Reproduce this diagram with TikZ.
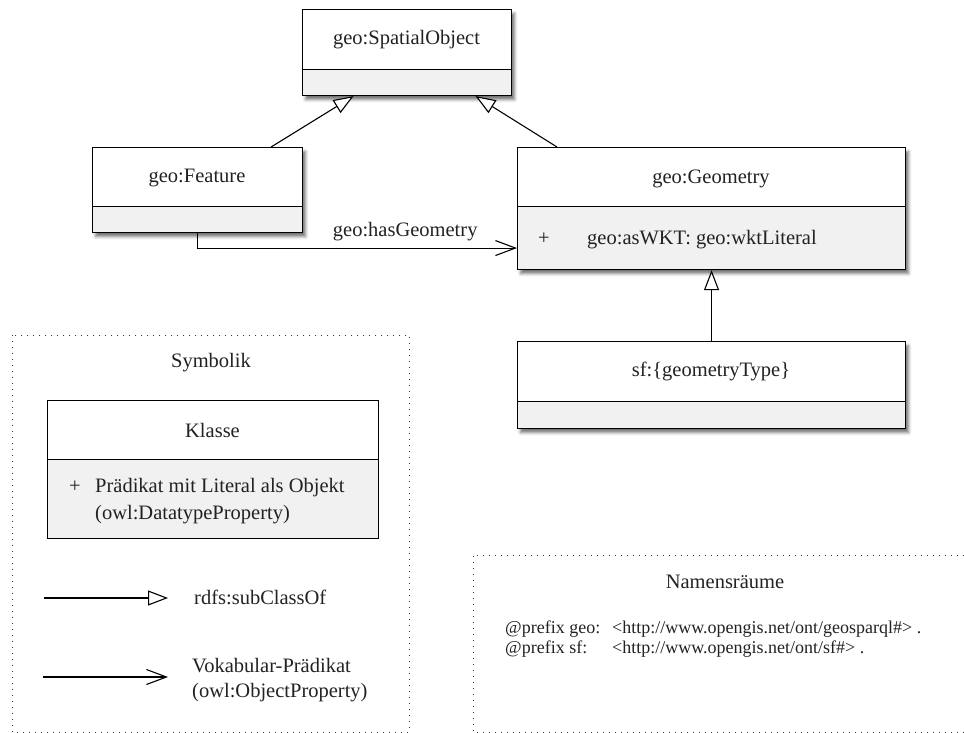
\documentclass[tikz,border=0pt]{standalone}
\usepackage{fontspec}
\setmainfont{Liberation Serif}
\usetikzlibrary{arrows.meta,shadows.blur}

\definecolor{ink}{HTML}{222222}
\definecolor{compgray}{HTML}{F1F1F1}
\definecolor{dotgray}{HTML}{333333}

\newcommand\mainsize{\fontsize{20.5}{25}\selectfont}
\newcommand\smallsize{\fontsize{18}{20}\selectfont}

\tikzset{
  every node/.style={font=\mainsize, text=ink, inner sep=0pt},
  txt/.style={anchor=base},
  txtl/.style={anchor=base west},
  classbox/.style={draw=black, line width=1.1pt, fill=white, anchor=north west,
    blur shadow={shadow xshift=3pt, shadow yshift=-4pt, shadow blur radius=3pt, shadow opacity=55}},
  plainbox/.style={draw=black, line width=1.1pt, fill=white, anchor=north west},
  compbox/.style={draw=black, line width=1.1pt, fill=compgray, anchor=north west},
  gen/.style={line width=1.1pt, -{Triangle[open, length=20pt, width=15pt, fill=white]}},
  assoc/.style={line width=1.1pt, -{Straight Barb[length=20pt, width=15pt, line width=1.1pt]}},
  frame/.style={draw=dotgray, line width=1pt, dash pattern=on 1pt off 5pt},
}

\begin{document}
\begin{tikzpicture}[x=1pt, y=-1pt]
\useasboundingbox (0,0) rectangle (964,733);

% geo:SpatialObject
\node[classbox, minimum width=209pt, minimum height=86pt] (so) at (302,9) {};
\node[compbox, minimum width=209pt, minimum height=26pt] (so-c) at (302,69) {};
\node[txt] (so-t) at (406.5,45) {geo:SpatialObject};

% geo:Feature
\node[classbox, minimum width=210pt, minimum height=85pt] (feat) at (92,147) {};
\node[compbox, minimum width=210pt, minimum height=26pt] (feat-c) at (92,206) {};
\node[txt] (feat-t) at (197,182.5) {geo:Feature};

% geo:Geometry
\node[classbox, minimum width=388pt, minimum height=122pt] (geom) at (517,147) {};
\node[compbox, minimum width=388pt, minimum height=63pt] (geom-c) at (517,206) {};
\node[txt] (geom-t) at (711,183) {geo:Geometry};
\node[txt] (geom-plus) at (544,244) {+};
\node[txtl] (geom-attr) at (587,244) {geo:asWKT: geo:wktLiteral};

% sf:{geometryType}
\node[classbox, minimum width=388pt, minimum height=87pt] (sf) at (517,341) {};
\node[compbox, minimum width=388pt, minimum height=27pt] (sf-c) at (517,401) {};
\node[txt] (sf-t) at (711,376) {sf:\{geometryType\}};

% relations
\draw[gen] ([xshift=-32pt]feat.north east) -- ([xshift=-53.5pt]so.south);
\draw[gen] ([xshift=40pt]geom.north west) -- ([xshift=68.5pt]so.south);
\draw[gen] (sf.north) -- (geom.south);
\draw[assoc] (feat.south) |- ([yshift=-39.5pt]geom.west)
  node[pos=0.825, above=7pt] (hasgeom) {geo:hasGeometry};

% legend
\draw[frame] (12,335) rectangle (409,732);
\node[txt] (sym-t) at (211,367) {Symbolik};
\node[plainbox, minimum width=331pt, minimum height=138pt] (kl) at (47,400) {};
\node[compbox, minimum width=331pt, minimum height=79pt] (kl-c) at (47,459) {};
\node[txt] (kl-t) at (212.5,437) {Klasse};
\node[txt] (kl-plus) at (75,492) {+};
\node[txtl] (kl-attr1) at (95,492) {Prädikat mit Literal als Objekt};
\node[txtl] (kl-attr2) at (95,519) {(owl:DatatypeProperty)};

\coordinate (sub-a) at (44,598);
\coordinate (sub-b) at (168,598);
\draw[gen] (sub-a) -- (sub-b);
\node[txtl] (sub-t) at (194,604) {rdfs:subClassOf};

\coordinate (voc-a) at (43,677);
\coordinate (voc-b) at (168,677);
\draw[assoc] (voc-a) -- (voc-b);
\node[txtl] (voc-t1) at (192,672) {Vokabular-Prädikat};
\node[txtl] (voc-t2) at (192,697) {(owl:ObjectProperty)};

% namespaces
\draw[frame] (964,555) -- (473,555) -- (473,732) -- (964,732);
\node[txt] (ns-t) at (725,588) {Namensräume};
\node[txtl, font=\smallsize] (ns-p1) at (505,633) {@prefix geo:};
\node[txtl, font=\smallsize] (ns-u1) at (612,633) {<http://www.opengis.net/ont/geosparql\#> .};
\node[txtl, font=\smallsize] (ns-p2) at (505,653) {@prefix sf:};
\node[txtl, font=\smallsize] (ns-u2) at (612,653) {<http://www.opengis.net/ont/sf\#> .};

\end{tikzpicture}
\end{document}
